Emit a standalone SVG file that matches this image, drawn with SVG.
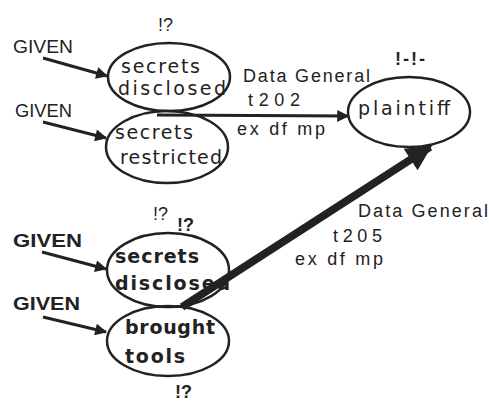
<svg xmlns="http://www.w3.org/2000/svg" width="489" height="401" viewBox="0 0 489 401">
<style>
.n{fill:none;stroke:#222;stroke-width:2.5}
.t{font-family:"DejaVu Sans","Liberation Sans",sans-serif;font-size:19px;fill:#222}
.b{font-weight:bold}
.g{font-family:"Liberation Sans",Arial,sans-serif;font-size:19px;fill:#222}
.c{stroke:#222;stroke-width:3;fill:none}
.l{font-family:"Liberation Sans",Arial,sans-serif;font-size:18px;fill:#222}
</style>
<defs>
<marker id="ah" viewBox="0 0 10 10" refX="9" refY="5" markerWidth="5" markerHeight="4" orient="auto" markerUnits="strokeWidth"><path d="M0,0L10,5L0,10z" fill="#222"/></marker>
<marker id="ahb" viewBox="0 0 10 10" refX="9" refY="5" markerWidth="3.5" markerHeight="3.2" orient="auto" markerUnits="strokeWidth"><path d="M0,0L10,5L0,10z" fill="#222"/></marker>
</defs>
<rect width="489" height="401" fill="#fff"/>
<g id="n1"><ellipse class="n" cx="169" cy="77" rx="61" ry="34"/>
<text class="t" x="121" y="73" textLength="79" lengthAdjust="spacing">secrets</text>
<text class="t" x="118" y="95" textLength="108" lengthAdjust="spacing">disclosed</text>
<text class="l" x="158" y="31">!?</text></g>
<g id="n2"><ellipse class="n" cx="167" cy="147" rx="61" ry="36"/>
<text class="t" x="115" y="139" textLength="78" lengthAdjust="spacing">secrets</text>
<text class="t" x="120" y="164" textLength="102" lengthAdjust="spacing">restricted</text>
<text class="l" x="153" y="220">!?</text></g>
<g id="n3"><ellipse class="n" cx="168" cy="270" rx="61" ry="37"/>
<text class="t b" x="115" y="263" textLength="84" lengthAdjust="spacing">secrets</text>
<text class="t b" x="115" y="290" textLength="115" lengthAdjust="spacing">disclosed</text>
<text class="l b" x="177" y="231">!?</text></g>
<g id="n4"><ellipse class="n" cx="168" cy="341" rx="61" ry="35"/>
<text class="t b" x="125" y="334" textLength="90" lengthAdjust="spacing">brought</text>
<text class="t b" x="125" y="363" textLength="60" lengthAdjust="spacing">tools</text>
<text class="l b" x="175" y="398">!?</text></g>
<g id="n5"><ellipse class="n" cx="409" cy="112" rx="61" ry="35"/>
<text class="t" x="358" y="115" textLength="92" lengthAdjust="spacing">plaintiff</text>
<text class="l b" x="395" y="65" textLength="30" lengthAdjust="spacing">!-!-</text></g>
<g id="givens">
<text class="g" x="13" y="53" textLength="60" lengthAdjust="spacingAndGlyphs">GIVEN</text>
<text class="g" x="15" y="117" textLength="57" lengthAdjust="spacingAndGlyphs">GIVEN</text>
<text class="g b" x="13" y="247" textLength="69" lengthAdjust="spacingAndGlyphs">GIVEN</text>
<text class="g b" x="13" y="310" textLength="67" lengthAdjust="spacingAndGlyphs">GIVEN</text>
</g>
<g id="connectors">
<line class="c" x1="43" y1="58" x2="107" y2="76" marker-end="url(#ah)"/>
<line class="c" x1="43" y1="122" x2="106" y2="138" marker-end="url(#ah)"/>
<line class="c" x1="42" y1="252" x2="106" y2="269" marker-end="url(#ah)"/>
<line class="c" x1="43" y1="317" x2="106" y2="332" marker-end="url(#ah)"/>
<line class="c" x1="157" y1="115" x2="348" y2="116" marker-end="url(#ah)"/>
<line x1="182" y1="307" x2="430" y2="147" stroke="#222" stroke-width="8" marker-end="url(#ahb)"/>
</g>
<g id="labels">
<text class="l" x="243" y="82" textLength="127" lengthAdjust="spacing">Data General</text>
<text class="l" x="248" y="106" textLength="52" lengthAdjust="spacing">t202</text>
<text class="l" x="237" y="135" textLength="88" lengthAdjust="spacing">ex df mp</text>
<text class="l" x="358" y="217" textLength="130" lengthAdjust="spacing">Data General</text>
<text class="l" x="333" y="242" textLength="49" lengthAdjust="spacing">t205</text>
<text class="l" x="295" y="265" textLength="88" lengthAdjust="spacing">ex df mp</text>
</g>
</svg>
